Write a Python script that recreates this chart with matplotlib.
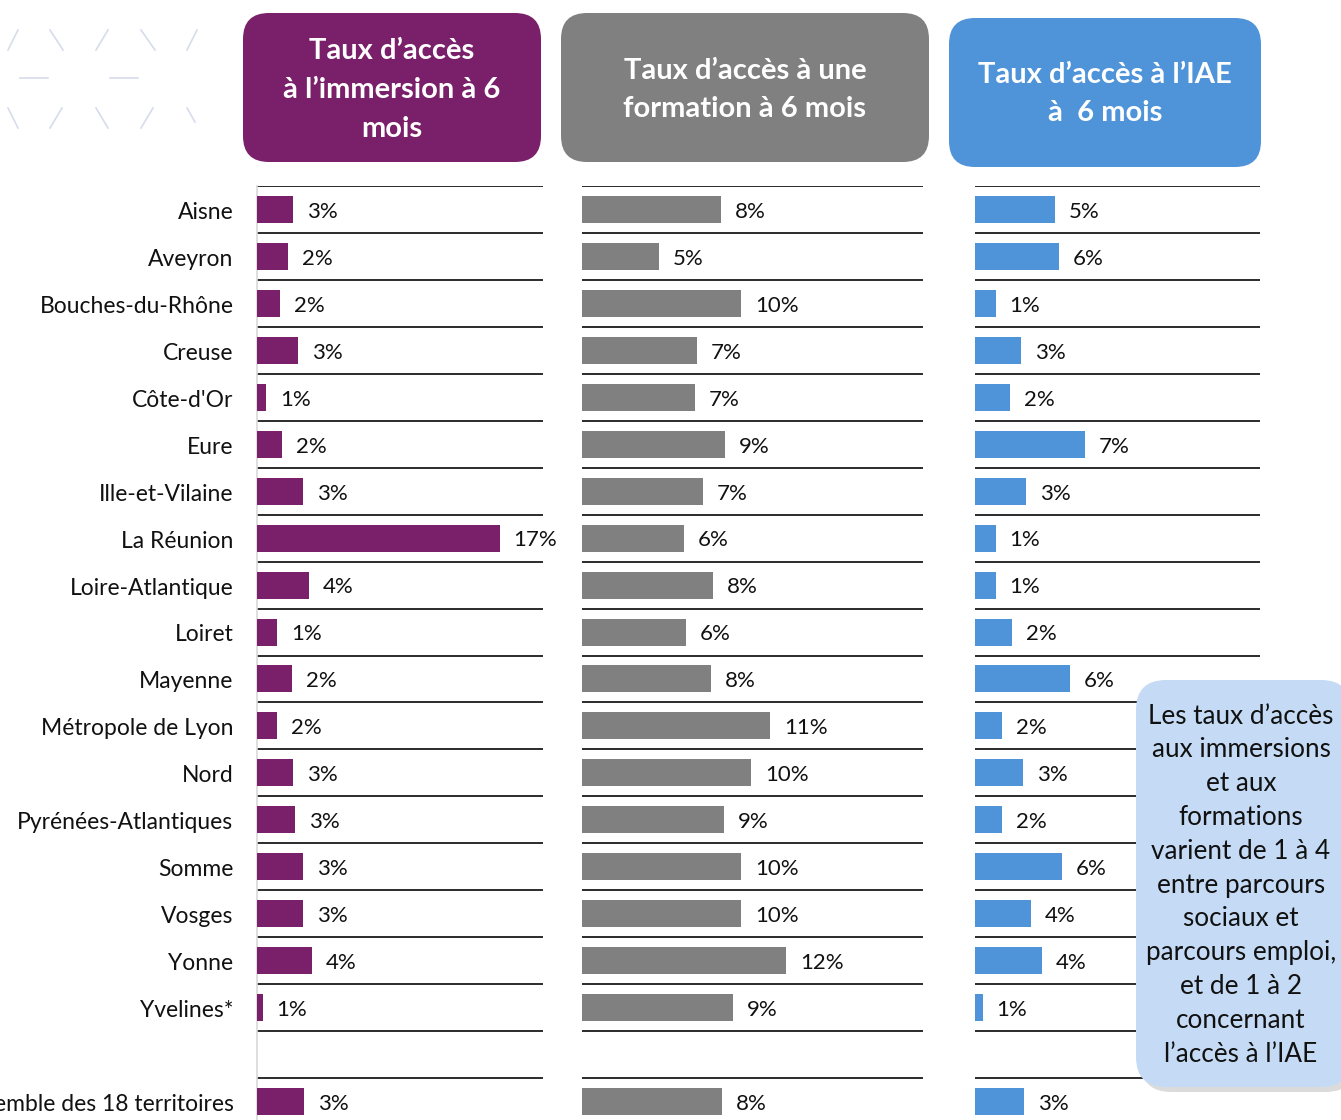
import matplotlib.pyplot as plt
from matplotlib.patches import FancyBboxPatch
from matplotlib.lines import Line2D

plt.rcParams['font.family'] = ['Lato', 'DejaVu Sans']

# Data
territoires = ["Aisne", "Aveyron", "Bouches-du-Rhône", "Creuse", "Côte-d'Or", "Eure",
               "Ille-et-Vilaine", "La Réunion", "Loire-Atlantique", "Loiret", "Mayenne",
               "Métropole de Lyon", "Nord", "Pyrénées-Atlantiques", "Somme", "Vosges",
               "Yonne", "Yvelines*", "", "Ensemble des 18 territoires"]

# bar lengths (%); None = empty spacer row
immersion = [2.52, 2.19, 1.63, 2.85, 0.63, 1.75, 3.2, 16.97, 3.64, 1.40, 2.43,
             1.42, 2.52, 2.64, 3.2, 3.2, 3.85, 0.40, None, 3.29]
formation = [8.38, 4.63, 9.63, 6.93, 6.83, 8.66, 7.33, 6.16, 7.9, 6.27, 7.79,
             11.36, 10.21, 8.56, 9.63, 9.63, 12.33, 9.14, None, 8.48]
iae = [5.31, 5.62, 1.38, 3.07, 2.33, 7.31, 3.4, 1.38, 1.38, 2.45, 6.35,
       1.8, 3.18, 1.8, 5.82, 3.71, 4.45, 0.51, None, 3.29]

# printed labels (%)
immersion_lbl = [3, 2, 2, 3, 1, 2, 3, 17, 4, 1, 2, 2, 3, 3, 3, 3, 4, 1, None, 3]
formation_lbl = [8, 5, 10, 7, 7, 9, 7, 6, 8, 6, 8, 11, 10, 9, 10, 10, 12, 9, None, 8]
iae_lbl = [5, 6, 1, 3, 2, 7, 3, 1, 1, 2, 6, 2, 3, 2, 6, 4, 4, 1, None, 3]

headers = ["Taux d’accès\nà l’immersion à 6\nmois",
           "Taux d’accès à une\nformation à 6 mois",
           "Taux d’accès à l’IAE\nà  6 mois"]
note = ("Les taux d’accès\naux immersions\net aux\nformations\nvarient de 1 à 4\n"
        "entre parcours\nsociaux et\nparcours emploi,\net de 1 à 2\nconcernant\nl’accès à l’IAE")

purple = '#7A1F6A'
grey = '#808080'
blue = '#4F94D9'

W, H = 1341, 1120
fig = plt.figure(figsize=(W / 100, H / 100), dpi=100)


def px_axes(left, top, right, bottom, **kw):
    return fig.add_axes([left / W, 1 - bottom / H, (right - left) / W, (bottom - top) / H], **kw)


def draw_panel(ax, values, labels, color, xmax, show_names=False, spine=False):
    rows = [i for i, v in enumerate(values) if v is not None]
    ax.barh([i + 0.5 for i in rows], [values[i] for i in rows], height=0.575,
            color=color, zorder=3)
    for i in rows:
        ax.annotate(f"{labels[i]}%", (values[i], i + 0.55), xytext=(10, 0),
                    textcoords='offset points', va='center', ha='left',
                    fontsize=16, color='#111111')
    ax.set_xlim(0, xmax)
    ax.set_ylim(len(values), 0)
    ax.set_xticks([])
    ax.set_yticks([i + 0.52 for i in range(len(values))])
    if show_names:
        ax.set_yticklabels(territoires, fontsize=16.5, color='#111111')
    else:
        ax.set_yticklabels([])
    ax.set_yticks(range(len(values)), minor=True)
    ax.tick_params(axis='y', which='both', length=0, pad=17)
    ax.grid(axis='y', which='minor', color='#1a1a1a', linewidth=1.3)
    ax.grid(axis='y', which='major', visible=False)
    for s in ['top', 'right', 'bottom']:
        ax.spines[s].set_visible(False)
    if spine:
        ax.spines['left'].set_color('#d9d9d9')
        ax.spines['left'].set_linewidth(1.2)
    else:
        ax.spines['left'].set_visible(False)


top, bottom = 186, 186 + 20 * 46.95
ax1 = px_axes(257, top, 543, bottom)
ax2 = px_axes(582, top, 923, bottom)
ax3 = px_axes(975, top, 1260, bottom)
draw_panel(ax1, immersion, immersion_lbl, purple, 20, show_names=True, spine=True)
draw_panel(ax2, formation, formation_lbl, grey, 20.6)
draw_panel(ax3, iae, iae_lbl, blue, 19)

# Overlay for headers, note and decoration (pixel coordinates)
ov = px_axes(0, 0, W, H, zorder=10)
ov.set_xlim(0, W)
ov.set_ylim(H, 0)
ov.axis('off')
ov.patch.set_alpha(0)

boxes = [(243, 13, 541, 162, purple, 392, 90),
         (561, 13, 929, 162, grey, 745, 90),
         (949, 18, 1261, 167, blue, 1105, 94)]
for (x0, y0, x1, y1, c, tx, ty), txt in zip(boxes, headers):
    ov.add_patch(FancyBboxPatch((x0, y0), x1 - x0, y1 - y0,
                                boxstyle="round,pad=0,rounding_size=26",
                                facecolor=c, edgecolor='none'))
    ov.text(tx, ty, txt, ha='center', va='center', color='white',
            fontsize=21, fontweight='bold', linespacing=1.6)

# Note box with shadow
ov.add_patch(FancyBboxPatch((1141, 685), 215, 407, boxstyle="round,pad=0,rounding_size=30",
                            facecolor='#9a9a9a', edgecolor='none', alpha=0.35))
ov.add_patch(FancyBboxPatch((1136, 680), 215, 407, boxstyle="round,pad=0,rounding_size=30",
                            facecolor='#C5DBF5', edgecolor='none'))
ov.text(1241, 885, note, ha='center', va='center', fontsize=18.8, color='#111111',
        linespacing=1.44)

# Faint decorative pattern (top left)
deco = '#d6dcea'
segs = [((8, 50), (18, 30)), ((50, 30), (63, 50)), ((96, 50), (108, 30)),
        ((141, 30), (155, 50)), ((187, 50), (197, 30)),
        ((20, 78), (48, 78)), ((110, 78), (138, 78)),
        ((8, 108), (18, 128)), ((50, 128), (62, 108)), ((96, 108), (108, 128)),
        ((141, 128), (153, 108)), ((187, 108), (195, 122))]
for (xa, ya), (xb, yb) in segs:
    ov.add_line(Line2D([xa, xb], [ya, yb], color=deco, linewidth=1.2))

fig.savefig("out.png", dpi=100)
